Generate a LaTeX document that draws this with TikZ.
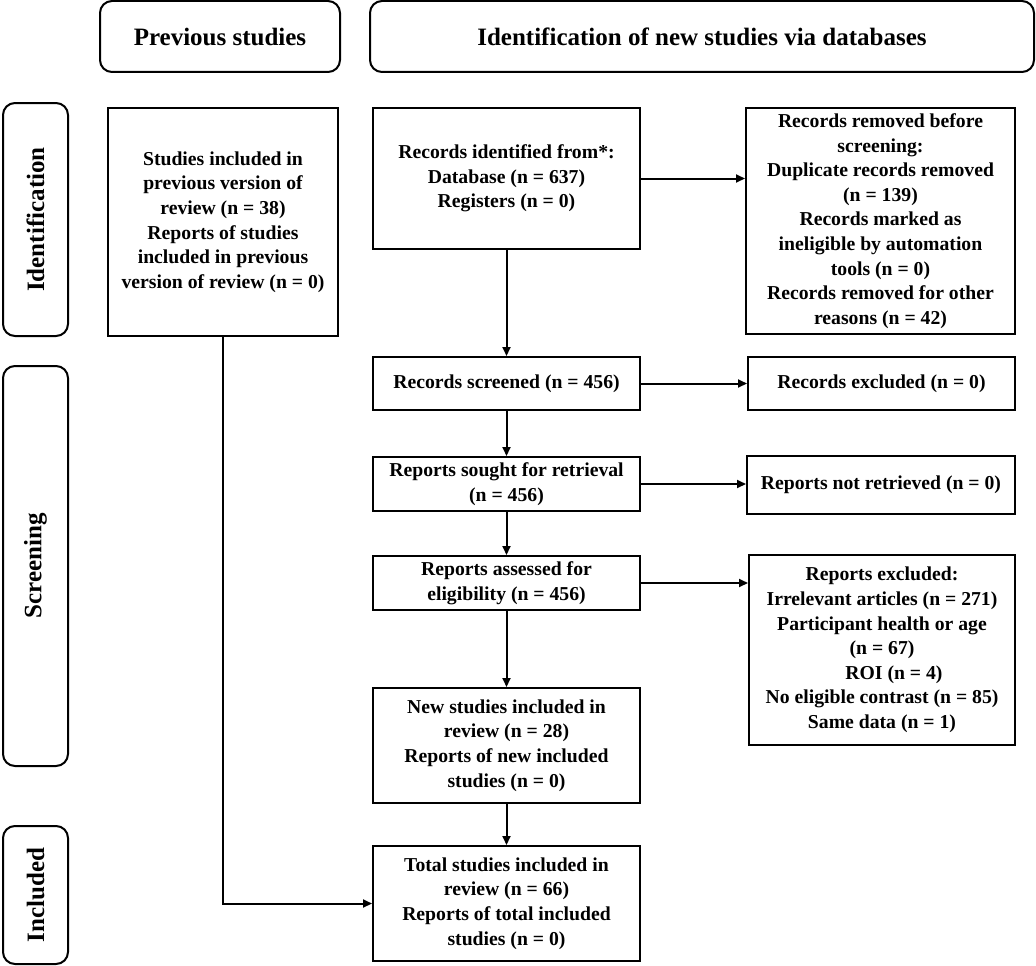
\documentclass[tikz,border=0pt]{standalone}
\usepackage{fontspec}
\setmainfont{Liberation Serif}
\usetikzlibrary{arrows.meta}
\begin{document}
\begin{tikzpicture}[x=1pt,y=-1pt]
\tikzset{
  box/.style={draw, line width=2pt, inner sep=0pt, align=center,
    font=\bfseries\fontsize{19.7}{24.6}\selectfont},
  hdr/.style={draw, line width=2pt, rounded corners=12pt, inner sep=0pt, align=center,
    font=\bfseries\fontsize{25}{30}\selectfont},
  side/.style={hdr, rotate=90},
  arr/.style={line width=2pt, -{Triangle[length=9pt,width=8pt]}},
}
\useasboundingbox (0,0) rectangle (1036,966);
% headers
\node[hdr, minimum width=240pt, minimum height=71pt] (h1) at (220,36.5) {Previous studies};
\node[hdr, minimum width=664pt, minimum height=71pt] (h2) at (702,36.5) {Identification of new studies via databases};
% side labels
\node[side, minimum width=233pt, minimum height=65pt] (sid) at (35.5,219.5) {Identification};
\node[side, minimum width=400pt, minimum height=65pt] (sscr) at (35.5,566) {Screening};
\node[side, minimum width=138pt, minimum height=65pt] (sinc) at (35.5,895) {Included};
% boxes
\node[box, minimum width=230pt, minimum height=228pt] (prev) at (223,222)
  {Studies included in\\previous version of\\review (n = 38)\\Reports of studies\\included in previous\\version of review (n = 0)};
\node[box, minimum width=267pt, minimum height=141pt] (ident) at (506.5,178.5)
  {Records identified from*:\\Database (n = 637)\\Registers (n = 0)};
\node[box, minimum width=269pt, minimum height=226pt] (removed) at (880.5,221)
  {Records removed before\\screening:\\Duplicate records removed\\(n = 139)\\Records marked as\\ineligible by automation\\tools (n = 0)\\Records removed for other\\reasons (n = 42)};
\node[box, minimum width=267pt, minimum height=53pt] (screened) at (506.5,383.5)
  {Records screened (n = 456)};
\node[box, minimum width=267pt, minimum height=53pt] (excluded) at (881.5,383.5)
  {Records excluded (n = 0)};
\node[box, minimum width=267pt, minimum height=54pt] (sought) at (506.5,484)
  {Reports sought for retrieval\\(n = 456)};
\node[box, minimum width=268pt, minimum height=58pt] (notret) at (881,485)
  {Reports not retrieved (n = 0)};
\node[box, minimum width=267pt, minimum height=54pt] (assessed) at (506.5,583)
  {Reports assessed for\\eligibility (n = 456)};
\node[box, minimum width=266pt, minimum height=190pt] (repexcl) at (882,650)
  {Reports excluded:\\Irrelevant articles (n = 271)\\Participant health or age\\(n = 67)\\\hspace*{24pt}ROI (n = 4)\\No eligible contrast (n = 85)\\Same data (n = 1)};
\node[box, minimum width=267pt, minimum height=115pt] (new) at (506.5,745.5)
  {New studies included in\\review (n = 28)\\Reports of new included\\studies (n = 0)};
\node[box, minimum width=267pt, minimum height=115pt] (total) at (506.5,903.5)
  {Total studies included in\\review (n = 66)\\Reports of total included\\studies (n = 0)};
% connectors
\draw[arr] (ident.south) -- (screened.north);
\draw[arr] (screened.south) -- (sought.north);
\draw[arr] (sought.south) -- (assessed.north);
\draw[arr] (assessed.south) -- (new.north);
\draw[arr] (new.south) -- (total.north);
\draw[arr] (ident.east) -- (ident.east -| removed.west);
\draw[arr] (screened.east) -- (screened.east -| excluded.west);
\draw[arr] (sought.east) -- (sought.east -| notret.west);
\draw[arr] (assessed.east) -- (assessed.east -| repexcl.west);
\draw[arr] (prev.south) |- (total.west);
\end{tikzpicture}
\end{document}
